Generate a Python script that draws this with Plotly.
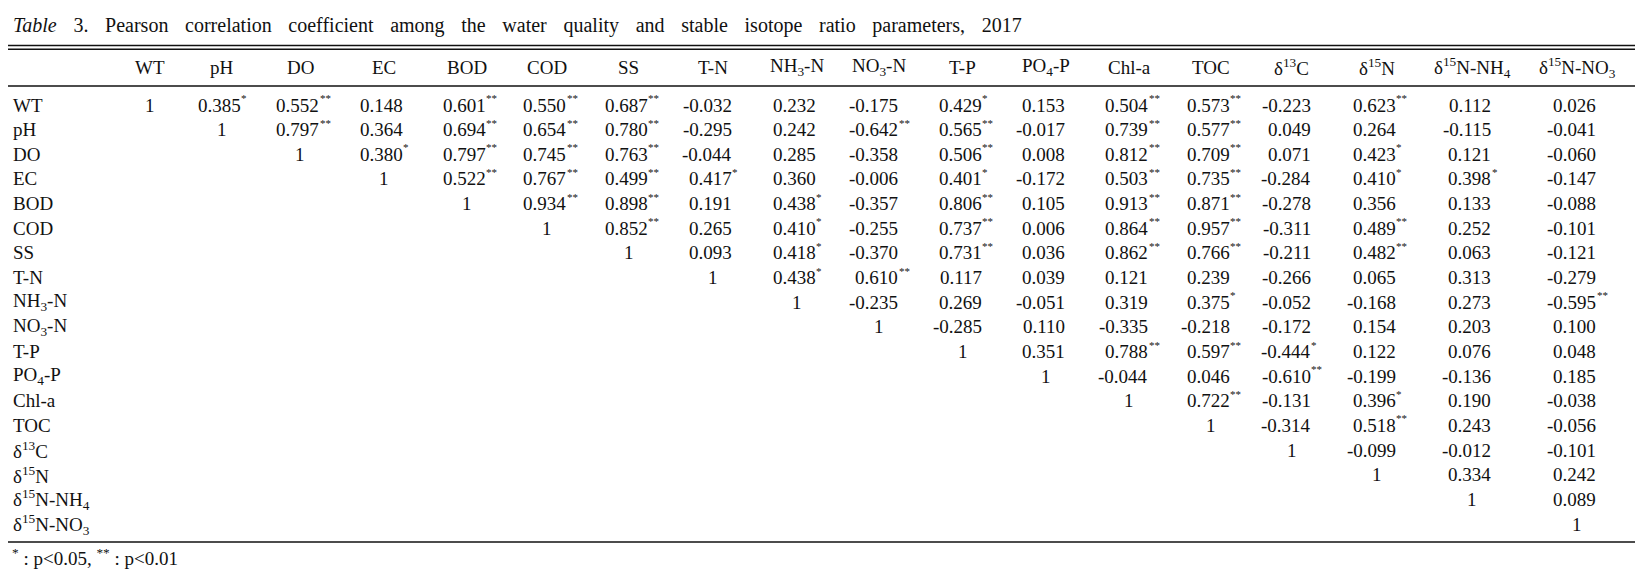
import numpy as np
import plotly.graph_objects as go

# ---------------- data ----------------
title_words = ["<i>Table</i>", "3.", "Pearson", "correlation", "coefficient", "among", "the", "water",
               "quality", "and", "stable", "isotope", "ratio", "parameters,", "2017"]
variables = ["WT", "pH", "DO", "EC", "BOD", "COD", "SS", "T-N", "NH<sub>3</sub>-N", "NO<sub>3</sub>-N",
             "T-P", "PO<sub>4</sub>-P", "Chl-a", "TOC", "δ<sup>13</sup>C", "δ<sup>15</sup>N",
             "δ<sup>15</sup>N-NH<sub>4</sub>", "δ<sup>15</sup>N-NO<sub>3</sub>"]

r_WT = ["1", "0.385*", "0.552**", "0.148", "0.601**", "0.550**", "0.687**", "-0.032", "0.232", "-0.175",
        "0.429*", "0.153", "0.504**", "0.573**", "-0.223", "0.623**", "0.112", "0.026"]
r_pH = ["1", "0.797**", "0.364", "0.694**", "0.654**", "0.780**", "-0.295", "0.242", "-0.642**", "0.565**",
        "-0.017", "0.739**", "0.577**", "0.049", "0.264", "-0.115", "-0.041"]
r_DO = ["1", "0.380*", "0.797**", "0.745**", "0.763**", "-0.044", "0.285", "-0.358", "0.506**", "0.008",
        "0.812**", "0.709**", "0.071", "0.423*", "0.121", "-0.060"]
r_EC = ["1", "0.522**", "0.767**", "0.499**", "0.417*", "0.360", "-0.006", "0.401*", "-0.172", "0.503**",
        "0.735**", "-0.284", "0.410*", "0.398*", "-0.147"]
r_BOD = ["1", "0.934**", "0.898**", "0.191", "0.438*", "-0.357", "0.806**", "0.105", "0.913**", "0.871**",
         "-0.278", "0.356", "0.133", "-0.088"]
r_COD = ["1", "0.852**", "0.265", "0.410*", "-0.255", "0.737**", "0.006", "0.864**", "0.957**", "-0.311",
         "0.489**", "0.252", "-0.101"]
r_SS = ["1", "0.093", "0.418*", "-0.370", "0.731**", "0.036", "0.862**", "0.766**", "-0.211", "0.482**",
        "0.063", "-0.121"]
r_TN = ["1", "0.438*", "0.610**", "0.117", "0.039", "0.121", "0.239", "-0.266", "0.065", "0.313", "-0.279"]
r_NH3 = ["1", "-0.235", "0.269", "-0.051", "0.319", "0.375*", "-0.052", "-0.168", "0.273", "-0.595**"]
r_NO3 = ["1", "-0.285", "0.110", "-0.335", "-0.218", "-0.172", "0.154", "0.203", "0.100"]
r_TP = ["1", "0.351", "0.788**", "0.597**", "-0.444*", "0.122", "0.076", "0.048"]
r_PO4 = ["1", "-0.044", "0.046", "-0.610**", "-0.199", "-0.136", "0.185"]
r_Chl = ["1", "0.722**", "-0.131", "0.396*", "0.190", "-0.038"]
r_TOC = ["1", "-0.314", "0.518**", "0.243", "-0.056"]
r_d13C = ["1", "-0.099", "-0.012", "-0.101"]
r_d15N = ["1", "0.334", "0.242"]
r_d15NNH4 = ["1", "0.089"]
r_d15NNO3 = ["1"]
rows = [r_WT, r_pH, r_DO, r_EC, r_BOD, r_COD, r_SS, r_TN, r_NH3, r_NO3, r_TP, r_PO4, r_Chl, r_TOC,
        r_d13C, r_d15N, r_d15NNH4, r_d15NNO3]
footnote_text = "<sup>*</sup> : p<0.05, <sup>**</sup> : p<0.01"

# ---------------- layout constants ----------------
W, H = 1643, 583
OFF = 8                 # default page body margin: shift so axis units == page pixels
FONT = "Liberation Serif"
FS = 19
INK = "#111111"
label_col_width = 116
col_widths = [68, 75, 82.5, 84, 82, 79.5, 83, 85, 83, 82.5, 84, 83.5, 82.5, 80.5, 81, 89.5, 101.5, 108]
num_right_pad = 19      # digits right-aligned this far right of column centre
row_px = 24.65          # row pitch in pixels
first_row_px = 105      # page-pixel centre of first data row

edges = label_col_width + np.concatenate([[0], np.cumsum(col_widths)])
centers = (edges[:-1] + edges[1:]) / 2

y_top = (OFF - first_row_px) / row_px
y_bot = (OFF + H - first_row_px) / row_px

def ypx(p):  # page pixel -> row units
    return (p - first_row_px) / row_px

fig = go.Figure()
fig.add_trace(go.Scatter(x=[None], y=[None], showlegend=False, hoverinfo="skip"))

ann = []
base = dict(xref="x", yref="y", showarrow=False, borderpad=0, borderwidth=0,
            font=dict(family=FONT, size=FS, color=INK))

# title (justified-looking word spacing)
gap = " \u00a0\u00a0\u200a"
ann.append(dict(base, x=13, y=ypx(25), text=gap.join(title_words), xanchor="left", yanchor="middle",
                font=dict(family=FONT, size=20, color=INK)))
# header
for j, v in enumerate(variables):
    ann.append(dict(base, x=centers[j], y=ypx(67), text=v, xanchor="center", yanchor="middle"))
# row labels + cells
for i, (v, row) in enumerate(zip(variables, rows)):
    ann.append(dict(base, x=13, y=i, text=v, xanchor="left", yanchor="middle"))
    for k, cell in enumerate(row):
        j = i + k
        num = cell.rstrip("*")
        stars = cell[len(num):]
        if num == "1":
            ann.append(dict(base, x=centers[j], y=i, text=num, xanchor="center", yanchor="middle"))
        else:
            xr = centers[j] + num_right_pad
            ann.append(dict(base, x=xr, y=i, text=num, xanchor="right", yanchor="middle"))
            if stars:
                ann.append(dict(base, x=xr + 0.5, y=i, text=stars, xanchor="left", yanchor="middle",
                                yshift=7, font=dict(family=FONT, size=11, color=INK)))
# footnote
ann.append(dict(base, x=12, y=ypx(557), text=footnote_text, xanchor="left", yanchor="middle"))

shapes = []
def rule(p, w):
    shapes.append(dict(type="line", xref="x", yref="y", x0=8, x1=1635, y0=ypx(p), y1=ypx(p),
                       line=dict(color=INK, width=w)))
rule(45.5, 1.6)
rule(49.3, 1.6)
rule(86, 1.4)
rule(542, 1.4)

fig.update_layout(
    width=W, height=H, margin=dict(l=0, r=0, t=0, b=0),
    paper_bgcolor="white", plot_bgcolor="white",
    xaxis=dict(range=[OFF, OFF + W], visible=False, fixedrange=True),
    yaxis=dict(range=[y_bot, y_top], visible=False, fixedrange=True),
    annotations=ann, shapes=shapes, showlegend=False,
)
fig.write_html("out.html")
